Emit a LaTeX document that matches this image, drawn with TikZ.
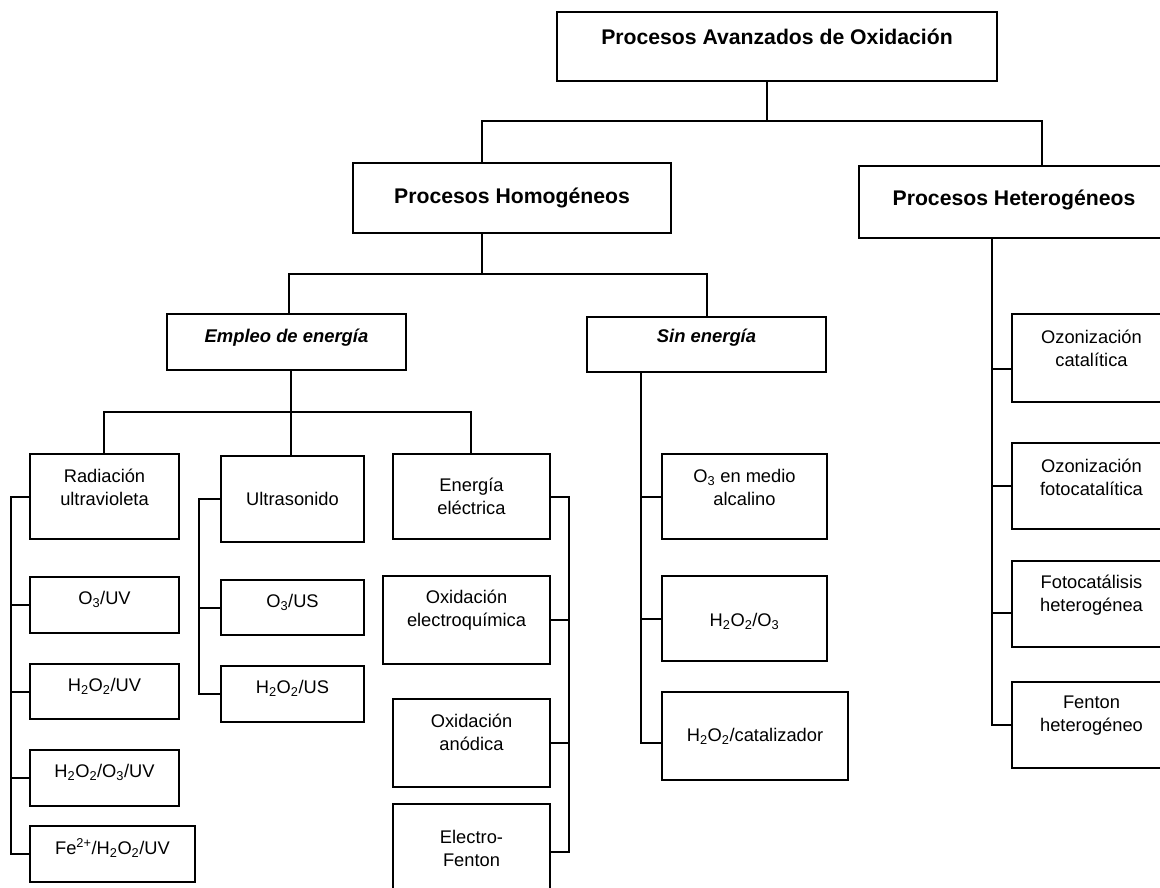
\documentclass[tikz,border=0pt]{standalone}
\usepackage{fontspec}
\setmainfont{Liberation Sans}
\begin{document}
\begin{tikzpicture}[x = 1pt, y = -1pt,
		bx/.style 2 args = {draw, line width = 1.3pt, inner sep = 0pt, minimum width = #1, minimum height = #2},
		tx/.style = {font = \fontsize{18.3}{23}\selectfont, align = center},
		tb/.style = {font = \fontsize{21.2}{25}\selectfont\bfseries, align = center},
		ti/.style = {font = \fontsize{18.4}{23}\selectfont\bfseries\itshape, align = center},
		ln/.style = {line width = 2pt}]
		\useasboundingbox (0, 0) rectangle (1160, 888);
		\clip (0, 0) rectangle (1160, 888);
		%%%%%%%%%
		\node[bx = {440pt}{69pt}, label = {[tb, yshift = 10pt]center:Procesos Avanzados de Oxidación}] (pao) at (777, 46.5) {};
		\node[bx = {318pt}{70pt}, label = {[tb]center:Procesos Homogéneos}] (hom) at (512, 198) {};
		\node[bx = {310pt}{72pt}, label = {[tb, yshift = 2pt]center:Procesos Heterogéneos}] (het) at (1014, 202) {};
		\node[bx = {239pt}{56pt}, label = {[ti, yshift = 4pt]center:Empleo de energía}] (emp) at (286.5, 342) {};
		\node[bx = {239pt}{55pt}, label = {[ti, yshift = 6.5pt]center:Sin energía}] (sin) at (706.5, 344.5) {};
		%%%%%%%%%
		\node[bx = {149pt}{85pt}, label = {[tx, yshift = 9pt]center:Radiación\\ultravioleta}] (rad) at (104.5, 496.5) {};
		\node[bx = {149pt}{56pt}, label = {[tx, yshift = 6pt]center:O\textsubscript{3}/UV}] (o3uv) at (104.5, 605) {};
		\node[bx = {149pt}{55pt}, label = {[tx, yshift = 5.5pt]center:H\textsubscript{2}O\textsubscript{2}/UV}] (h2uv) at (104.5, 691.5) {};
		\node[bx = {149pt}{56pt}, label = {[tx, yshift = 6pt]center:H\textsubscript{2}O\textsubscript{2}/O\textsubscript{3}/UV}] (h2o3uv) at (104.5, 778) {};
		\node[bx = {165pt}{56pt}, label = {[tx, yshift = 6pt]center:Fe\textsuperscript{2+}/H\textsubscript{2}O\textsubscript{2}/UV}] (fe) at (112.5, 854) {};
		%%%%%%%%%
		\node[bx = {143pt}{86pt}, label = {[tx]center:Ultrasonido}] (ult) at (292.5, 499) {};
		\node[bx = {143pt}{55pt}, label = {[tx, yshift = 5.5pt]center:O\textsubscript{3}/US}] (o3us) at (292.5, 607.5) {};
		\node[bx = {143pt}{56pt}, label = {[tx, yshift = 6pt]center:H\textsubscript{2}O\textsubscript{2}/US}] (h2us) at (292.5, 694) {};
		%%%%%%%%%
		\node[bx = {157pt}{85pt}, label = {[tx]center:Energía\\eléctrica}] (ene) at (471.5, 496.5) {};
		\node[bx = {167pt}{88pt}, label = {[tx, yshift = 10pt]center:Oxidación\\electroquímica}] (oxe) at (466.5, 620) {};
		\node[bx = {157pt}{88pt}, label = {[tx, yshift = 10.5pt]center:Oxidación\\anódica}] (oxa) at (471.5, 743) {};
		\node[bx = {157pt}{96pt}, label = {[tx, yshift = 4pt]center:Electro-\\Fenton}] (ef) at (471.5, 852) {};
		%%%%%%%%%
		\node[bx = {165pt}{85pt}, label = {[tx, yshift = 9pt]center:O\textsubscript{3} en medio\\alcalino}] (alc) at (744.5, 496.5) {};
		\node[bx = {165pt}{85pt}, label = {[tx, yshift = -2.5pt]center:H\textsubscript{2}O\textsubscript{2}/O\textsubscript{3}}] (h2o3) at (744.5, 618.5) {};
		\node[bx = {186pt}{88pt}, label = {[tx]center:H\textsubscript{2}O\textsubscript{2}/catalizador}] (cat) at (755, 736) {};
		%%%%%%%%%
		\node[bx = {159pt}{88pt}, label = {[tx, yshift = 9.5pt]center:Ozonización\\catalítica}] (ozc) at (1091.5, 358) {};
		\node[bx = {159pt}{86pt}, label = {[tx, yshift = 9pt]center:Ozonización\\fotocatalítica}] (ozf) at (1091.5, 486) {};
		\node[bx = {159pt}{86pt}, label = {[tx, yshift = 9pt]center:Fotocatálisis\\heterogénea}] (fot) at (1091.5, 604) {};
		\node[bx = {159pt}{86pt}, label = {[tx, yshift = 9.5pt]center:Fenton\\heterogéneo}] (fen) at (1091.5, 725) {};
		%%%%%%%%%
		\coordinate (j1) at (767, 121);
		\coordinate (j1a) at (482, 121);
		\coordinate (j1b) at (1042, 121);
		\coordinate (j2) at (482, 274);
		\coordinate (j2a) at (289, 274);
		\coordinate (j2b) at (707, 274);
		\coordinate (j3) at (291, 412);
		\coordinate (j3a) at (104, 412);
		\coordinate (j3b) at (471, 412);
		\draw[ln] (pao.south -| j1) -- (j1);
		\draw[ln] (j1a |- hom.north) -- (j1a) -- (j1b) -- (j1b |- het.north);
		\draw[ln] (hom.south -| j2) -- (j2);
		\draw[ln] (j2a |- emp.north) -- (j2a) -- (j2b) -- (j2b |- sin.north);
		\draw[ln] (emp.south -| j3) -- (j3 |- ult.north);
		\draw[ln] (j3a |- rad.north) -- (j3a) -- (j3b) -- (j3b |- ene.north);
		%%%%%%%%%
		\coordinate (bl) at (11, 0);
		\coordinate (bu) at (199, 0);
		\coordinate (be) at (569, 0);
		\coordinate (bs) at (641, 0);
		\coordinate (bh) at (992, 0);
		\coordinate (catt) at ([yshift = -7pt]cat.west);
		\coordinate (ozct) at ([yshift = -11pt]ozc.west);
		\coordinate (fott) at ([yshift = -9pt]fot.west);
		\draw[ln] (rad.west) -- (rad.west -| bl) -- (fe.west -| bl) -- (fe.west);
		\foreach \n in {o3uv, h2uv, h2o3uv}
			\draw[ln] (\n.west) -- (\n.west -| bl);
		\draw[ln] (ult.west) -- (ult.west -| bu) -- (h2us.west -| bu) -- (h2us.west);
		\draw[ln] (o3us.west) -- (o3us.west -| bu);
		\draw[ln] (ene.east) -- (ene.east -| be) -- (ef.east -| be) -- (ef.east);
		\foreach \n in {oxe, oxa}
			\draw[ln] (\n.east) -- (\n.east -| be);
		\draw[ln] (sin.south -| bs) -- (catt -| bs) -- (catt);
		\foreach \n in {alc, h2o3}
			\draw[ln] (\n.west) -- (\n.west -| bs);
		\draw[ln] (het.south -| bh) -- (fen.west -| bh) -- (fen.west);
		\draw[ln] (ozct) -- (ozct -| bh);
		\draw[ln] (ozf.west) -- (ozf.west -| bh);
		\draw[ln] (fott) -- (fott -| bh);
	\end{tikzpicture}
\end{document}
